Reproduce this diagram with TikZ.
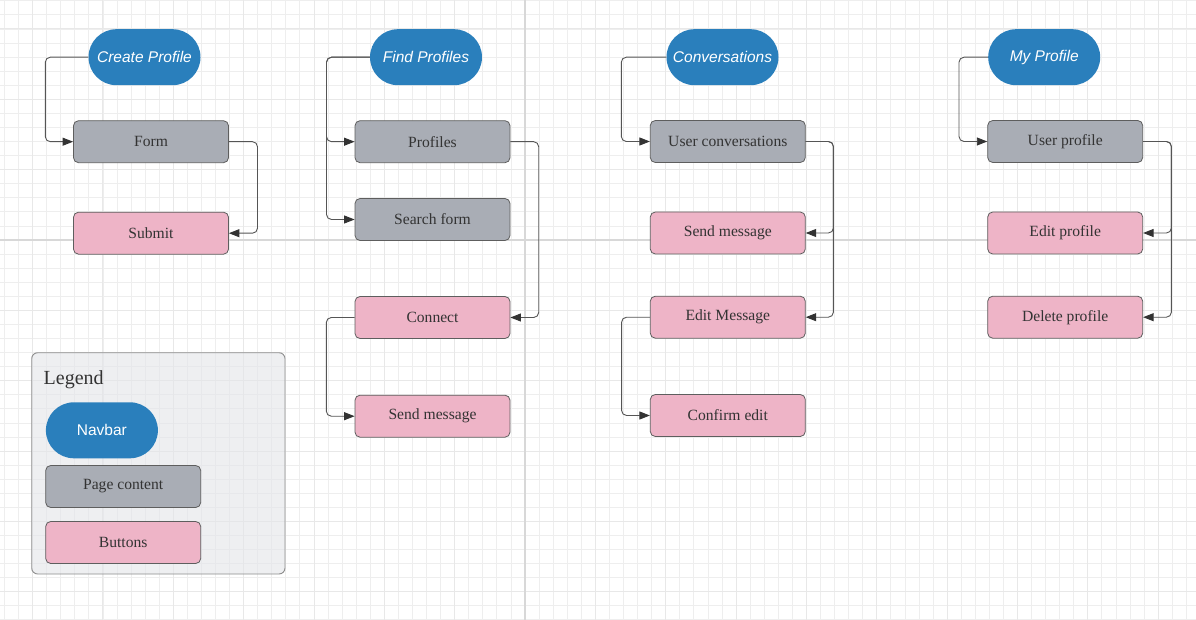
\documentclass[tikz,border=0pt]{standalone}
\usepackage{fontspec}
\setmainfont{Liberation Serif}
\newfontfamily\navfont{Liberation Sans}
\usetikzlibrary{arrows.meta}
\definecolor{navblue}{HTML}{2A7FBC}
\definecolor{pagegray}{HTML}{A9ADB5}
\definecolor{btnpink}{HTML}{EEB4C7}
\definecolor{edgecol}{HTML}{555555}
\definecolor{tipcol}{HTML}{333333}
\definecolor{boxline}{HTML}{5E5E5E}
\definecolor{txt}{HTML}{333333}
\definecolor{gridminor}{HTML}{EEEEEE}
\definecolor{gridmid}{HTML}{E8E8E8}
\definecolor{gridmajor}{HTML}{D8D8D8}
\definecolor{legfill}{HTML}{E3E5E9}
\definecolor{legline}{HTML}{8C8C8C}
\begin{document}
\begin{tikzpicture}[x=1pt,y=-1pt,
  navbox/.style={fill=navblue, draw=none, rounded corners=28pt, minimum width=112pt, minimum height=56pt, inner sep=0pt, text=white, font=\navfont\itshape\fontsize{15.5}{18}\selectfont},
  legnav/.style={navbox, font=\navfont\fontsize{15.5}{18}\selectfont},
  gbox/.style={fill=pagegray, draw=boxline, line width=0.8pt, rounded corners=5pt, minimum width=155pt, minimum height=42pt, inner sep=0pt, text=txt, font=\fontsize{15.6}{18}\selectfont},
  pbox/.style={gbox, fill=btnpink},
  conn/.style={draw=edgecol, line width=0.9pt, rounded corners=5pt, -{Triangle[length=10.5pt,width=8pt,color=tipcol]}},
  gminor/.style={draw=gridminor, line width=0.8pt},
  gmid/.style={draw=gridmid, line width=0.9pt},
  gmajor/.style={draw=gridmajor, line width=1.5pt}
]
\useasboundingbox (0,0) rectangle (1196,620);
\fill[white] (0,0) rectangle (1196,620);
% grid
\foreach \i in {-37,...,48} {\draw[gminor] ({525+14.07*\i},0) -- ({525+14.07*\i},620);}
\foreach \j in {-17,...,27} {\draw[gminor] (0,{240+14.07*\j}) -- (1196,{240+14.07*\j});}
\foreach \i in {-7,...,9} {\draw[gmid] ({525+70.35*\i},0) -- ({525+70.35*\i},620);}
\foreach \j in {-3,...,5} {\draw[gmid] (0,{240+70.35*\j}) -- (1196,{240+70.35*\j});}
\draw[gmajor] (525,0) -- (525,620);
\draw[gmajor] (0,240) -- (1196,240);

% Column 1
\node[navbox] (cp) at (144.5,57.2) {Create Profile};
\node[gbox] (form) at (151,141.7) {Form};
\node[pbox] (submit) at (151,233.2) {Submit};
\draw[conn] (cp.west) -- ++(-43,0) |- (form.west);
\draw[conn] (form.east) -- ++(28.6,0) |- (submit.east);

% Column 2
\node[navbox] (fp) at (426,57.2) {Find Profiles};
\node[gbox] (profiles) at (432.5,141.7) {Profiles};
\node[gbox] (search) at (432.5,219.5) {Search form};
\node[pbox] (connect) at (432.5,317.5) {Connect};
\node[pbox] (sendA) at (432.5,416.2) {Send message};
\draw[conn] (fp.west) -- ++(-43.3,0) |- (profiles.west);
\draw[conn] (fp.west) -- ++(-43.3,0) |- (search.west);
\draw[conn] (profiles.east) -- ++(28.3,0) |- (connect.east);
\draw[conn] (connect.west) -- ++(-28.3,0) |- (sendA.west);

% Column 3
\node[navbox] (conv) at (722.5,57.2) {Conversations};
\node[gbox] (uc) at (727.8,141.5) {User conversations};
\node[pbox] (sendB) at (727.8,233) {Send message};
\node[pbox] (editm) at (727.8,317.2) {Edit Message};
\node[pbox] (confirm) at (727.8,415.5) {Confirm edit};
\draw[conn] (conv.west) -- ++(-45,0) |- (uc.west);
\draw[conn] (uc.east) -- ++(27.7,0) |- (sendB.east);
\draw[conn] (uc.east) -- ++(27.7,0) |- (editm.east);
\draw[conn] (editm.west) -- ++(-28.3,0) |- (confirm.west);

% Column 4
\node[navbox] (mp) at (1044.2,57.2) {My Profile};
\node[gbox] (up) at (1065.2,141.5) {User profile};
\node[pbox] (editp) at (1065.2,233) {Edit profile};
\node[pbox] (delp) at (1065.2,317.2) {Delete profile};
\draw[conn] (mp.west) -- ++(-29,0) |- (up.west);
\draw[conn] (up.east) -- ++(28.3,0) |- (editp.east);
\draw[conn] (up.east) -- ++(28.3,0) |- (delp.east);

% Legend
\draw[fill=legfill, fill opacity=0.6, draw=legline, line width=0.9pt, rounded corners=6pt] (31.7,352.7) rectangle (285,574);
\node[anchor=base west, inner sep=0pt, text=txt, font=\fontsize{20}{24}\selectfont] (legtitle) at (43.5,384.3) {Legend};
\node[legnav] (lnav) at (101.9,430.3) {Navbar};
\node[gbox] (lpage) at (123.2,486.5) {Page content};
\node[pbox] (lbtn) at (123.2,542.5) {Buttons};
\end{tikzpicture}
\end{document}
